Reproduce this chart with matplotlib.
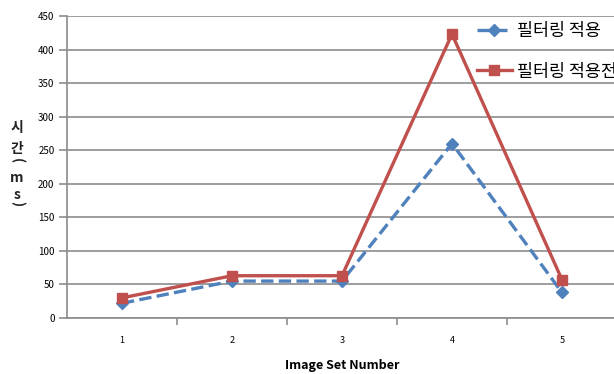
import matplotlib.pyplot as plt

plt.rcParams['font.family'] = ['Noto Sans CJK KR', 'DejaVu Sans']

# ---------- 데이터 ----------
sets = [1, 2, 3, 4, 5]
filtered = [22, 55, 55, 260, 38]        # 필터링 적용
unfiltered = [30, 63, 63, 423, 57]      # 필터링 적용전
yticks = list(range(0, 451, 50))

BLUE = '#4f81bd'
RED = '#c0504d'
GRID = '#8c8c8c'

fig = plt.figure(figsize=(6.14, 3.74), dpi=100, facecolor='white')
ax = fig.add_axes([67 / 614, 56 / 374, 550 / 614, 302 / 374])

ax.plot(sets, filtered, color=BLUE, linestyle='--', linewidth=2.4,
        marker='D', markersize=6, label='필터링 적용', zorder=3)
ax.plot(sets, unfiltered, color=RED, linestyle='-', linewidth=2.4,
        marker='s', markersize=7, label='필터링 적용전', zorder=4)

ax.set_xlim(0.5, 5.5)
ax.set_ylim(0, 450)
ax.set_yticks(yticks)
ax.set_xticks([1.5, 2.5, 3.5, 4.5, 5.5])
ax.set_xticks(sets, minor=True)
ax.set_xticklabels([])
ax.set_xticklabels([str(s) for s in sets], minor=True)
ax.tick_params(axis='x', which='major', length=5, color=GRID, width=1.2, direction='out')
ax.tick_params(axis='x', which='minor', length=0, pad=13, labelsize=6.5)
ax.tick_params(axis='y', length=6, color=GRID, width=1.2, labelsize=7, pad=3)
ax.yaxis.grid(True, color=GRID, linewidth=1.2)
ax.set_axisbelow(True)
for s in ['top', 'right']:
    ax.spines[s].set_visible(False)
for s in ['left', 'bottom']:
    ax.spines[s].set_color(GRID)
    ax.spines[s].set_linewidth(1.2)

ax.set_xlabel('Image Set Number', fontsize=9, fontweight='bold', labelpad=10)

# 세로 y축 라벨
ylab = [('시', 128, 0), ('간', 149, 0), ('(', 161, -90), ('m', 178, 0), ('s', 195, 0), (')', 204, -90)]
for ch, py, rot in ylab:
    fig.text(17 / 614, 1 - py / 374, ch, ha='center', va='center', fontsize=10,
             fontweight='bold', rotation=rot, color='#222222')

# 범례 (원본처럼 오른쪽 끝이 잘림)
leg = ax.legend(loc='upper left', bbox_to_anchor=(470 / 614, 1 - 15 / 374),
                bbox_transform=fig.transFigure, frameon=False, fontsize=12.5,
                handlelength=2.0, handletextpad=0.3, labelspacing=1.3, borderaxespad=0)

fig.savefig('out.png', dpi=100, facecolor='white')
